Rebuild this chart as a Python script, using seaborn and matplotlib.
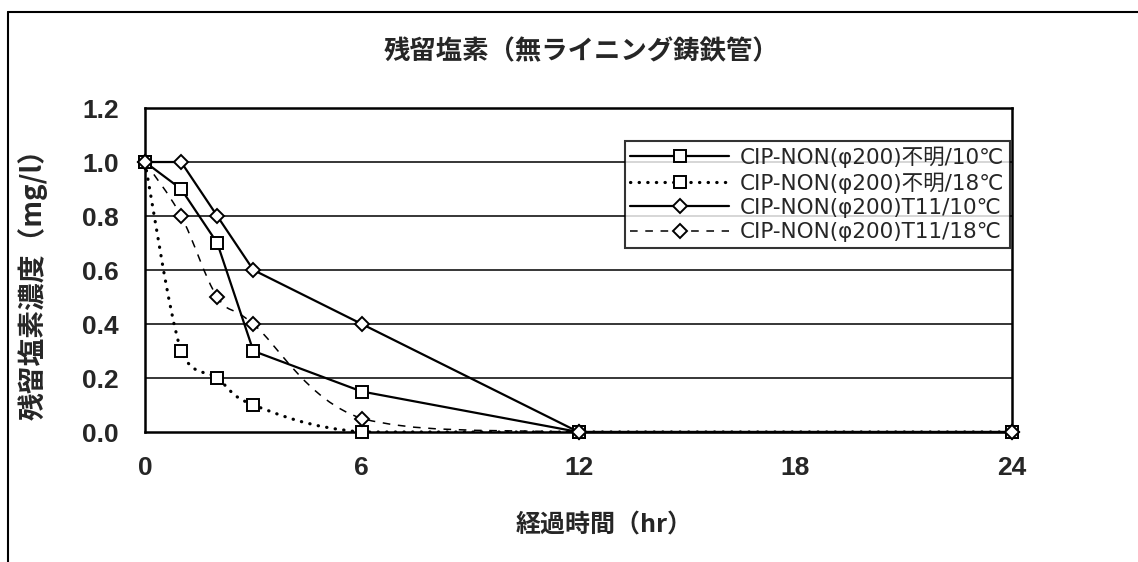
import numpy as np
import matplotlib
matplotlib.use("Agg")
import matplotlib.pyplot as plt
import seaborn as sns
from matplotlib.path import Path
from matplotlib.patches import PathPatch
from matplotlib.lines import Line2D

# data
hours = [0, 1, 2, 3, 6, 12, 24]
unk_10 = [1.0, 0.9, 0.7, 0.3, 0.15, 0.0, 0.0]
unk_18 = [1.0, 0.3, 0.2, 0.1, 0.0, 0.0, 0.0]
t11_10 = [1.0, 1.0, 0.8, 0.6, 0.4, 0.0, 0.0]
t11_18 = [1.0, 0.8, 0.5, 0.4, 0.05, 0.0, 0.0]
labels = ["CIP-NON(φ200)不明/10℃", "CIP-NON(φ200)不明/18℃",
          "CIP-NON(φ200)T11/10℃", "CIP-NON(φ200)T11/18℃"]
x_ticks = [0, 6, 12, 18, 24]
y_ticks = [0.0, 0.2, 0.4, 0.6, 0.8, 1.0, 1.2]

sns.set_style("white")
plt.rcParams['font.family'] = ['Liberation Sans', 'Noto Sans CJK JP', 'DejaVu Sans']
jp = ['Noto Sans CJK JP', 'DejaVu Sans']
leg_font = ['DejaVu Sans', 'Noto Sans CJK JP']


def smooth_path(xs, ys):
    # excel-like smoothed line: bezier segments through the data points
    pts = np.column_stack([xs, ys]).astype(float)
    n = len(pts)
    verts = [pts[0]]
    codes = [Path.MOVETO]
    for i in range(n - 1):
        p0 = pts[i - 1] if i > 0 else pts[i]
        p3 = pts[i + 2] if i + 2 < n else pts[i + 1]
        c1 = pts[i] + (pts[i + 1] - p0) / 6
        c2 = pts[i + 1] - (p3 - pts[i]) / 6
        lo, hi = min(pts[i][1], pts[i + 1][1]), max(pts[i][1], pts[i + 1][1])
        c1[1] = np.clip(c1[1], lo, hi)
        c2[1] = np.clip(c2[1], lo, hi)
        verts += [c1, c2, pts[i + 1]]
        codes += [Path.CURVE4] * 3
    return Path(verts, codes)


fig = plt.figure(figsize=(11.38, 5.62), dpi=100)
ax = fig.add_axes([0.1274, 0.2313, 0.762, 0.5765])

# horizontal gridlines
for yv in y_ticks[1:-1]:
    ax.axhline(yv, color='black', lw=1.1, zorder=1)

sq = dict(marker='s', markersize=8, markerfacecolor='white', markeredgecolor='black', markeredgewidth=1.4)
dm = dict(marker='D', markersize=6.8, markerfacecolor='white', markeredgecolor='black', markeredgewidth=1.4)

dotted = (0, (0.1, 2.6))
dashed = (0, (5, 5))

# straight series
sns.lineplot(x=hours, y=t11_10, ax=ax, color='black', lw=1.6, estimator=None, sort=False,
             zorder=3, clip_on=False, **dm)
sns.lineplot(x=hours, y=unk_10, ax=ax, color='black', lw=1.6, estimator=None, sort=False,
             zorder=3, clip_on=False, **sq)

# smoothed series
ax.add_patch(PathPatch(smooth_path(hours, unk_18), fill=False, edgecolor='black', lw=2.3,
                       linestyle=dotted, capstyle='round', zorder=2))
ax.add_patch(PathPatch(smooth_path(hours, t11_18), fill=False, edgecolor='black', lw=1.1,
                       linestyle=dashed, zorder=2))
sns.lineplot(x=hours, y=unk_18, ax=ax, linestyle='none', estimator=None, sort=False,
             zorder=4, clip_on=False, **sq)
sns.lineplot(x=hours, y=t11_18, ax=ax, linestyle='none', estimator=None, sort=False,
             zorder=4, clip_on=False, **dm)

ax.set_xlim(0, 24)
ax.set_ylim(0, 1.2)
ax.set_xticks(x_ticks)
ax.set_yticks(y_ticks)
ax.set_xticklabels([str(v) for v in x_ticks], fontsize=19, fontweight='bold')
ax.set_yticklabels([f"{v:.1f}" for v in y_ticks], fontsize=19, fontweight='bold')
ax.tick_params(axis='x', length=0, pad=17)
ax.tick_params(axis='y', length=0, pad=19)
for s in ax.spines.values():
    s.set_visible(True)
    s.set_color('black')
    s.set_linewidth(1.8)

ax.set_xlabel("経過時間（hr）", fontsize=18, fontweight='bold', family=jp)
ax.xaxis.set_label_coords(0.53, -0.25)

# y label as a single-family text (avoids glyph overlap in rotated fallback text)
fig.text(0.029, 0.507, "残留塩素濃度（mg/l）", fontsize=20, fontweight='bold',
         family='Noto Sans CJK JP', rotation=90, ha='center', va='center')

handles = [
    Line2D([], [], color='black', lw=1.6, **sq),
    Line2D([], [], color='black', lw=2.3, linestyle=dotted, dash_capstyle='round', **sq),
    Line2D([], [], color='black', lw=1.6, **dm),
    Line2D([], [], color='black', lw=1.1, linestyle=dashed, **dm),
]
leg = ax.legend(handles, labels, loc='upper right', bbox_to_anchor=(0.997, 0.898),
                prop={'family': leg_font, 'size': 15.5}, handlelength=4.6, frameon=True, fancybox=False,
                borderpad=0.25, labelspacing=0.2, handletextpad=0.5, borderaxespad=0)
leg.get_frame().set_edgecolor('black')
leg.get_frame().set_linewidth(1.5)

fig.text(0.511, 0.9075, "残留塩素（無ライニング鋳鉄管）", fontsize=19, fontweight='bold',
         family=jp, ha='center', va='center')

# outer chart border (left and top only visible)
fig.add_artist(Line2D([0.007, 0.007], [0, 0.979], color='black', lw=1.5, transform=fig.transFigure))
fig.add_artist(Line2D([0.007, 1.0], [0.979, 0.979], color='black', lw=1.5, transform=fig.transFigure))

fig.savefig("out.png", dpi=100)
